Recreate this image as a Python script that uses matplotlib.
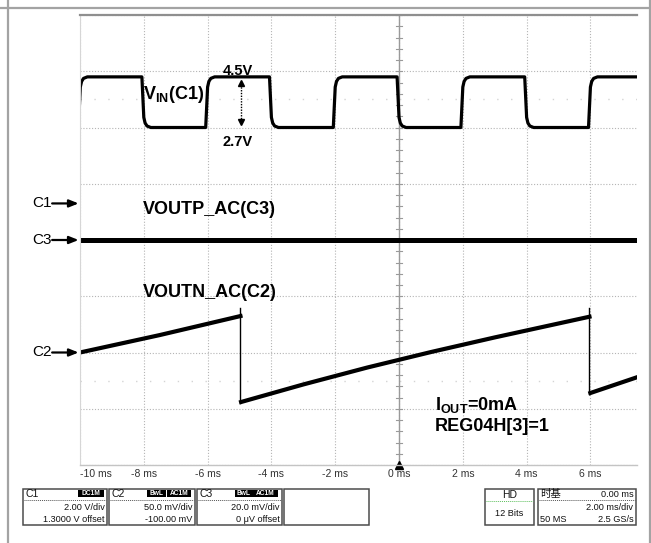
import matplotlib
matplotlib.use('Agg')
import matplotlib.pyplot as plt
from matplotlib.patches import Rectangle

plt.rcParams['font.family'] = ['Liberation Sans', 'DejaVu Sans']
plt.rcParams['mathtext.fontset'] = 'custom'
plt.rcParams['mathtext.rm'] = 'Liberation Sans'
plt.rcParams['mathtext.bf'] = 'Liberation Sans:bold'
plt.rcParams['mathtext.it'] = 'Liberation Sans:italic'

# ---------------- data ----------------
time_ticks_ms = [-10, -8, -6, -4, -2, 0, 2, 4, 6]
time_tick_labels = ['-10 ms', '-8 ms', '-6 ms', '-4 ms', '-2 ms', '0 ms', '2 ms', '4 ms', '6 ms']
x_range_ms = (-10.0, 7.46)
div_range = (-4, 4)

# channel settings (scale per division, offset)
c1_scale_v, c1_offset_v = 2.0, 1.3
c2_scale_mv, c2_offset_mv = 50.0, -100.0
c3_scale_mv, c3_offset_mv = 20.0, 0.0

# VIN (C1): square wave levels and edge times
vin_high_v, vin_low_v = 4.5, 2.7
vin_rise_ms = [-10.05, -6.06, -2.06, 1.94, 5.94]
vin_fall_ms = [-8.06, -4.06, -0.06, 3.94]
edge_dt_ms = [0.0, 0.06, 0.10, 0.16, 0.28]
edge_frac = [0.0, 0.80, 0.91, 0.97, 1.0]

# VOUTN_AC (C2): sawtooth ramps (mV)
c2_seg1_t = [-10.0, -7.5, -4.97]
c2_seg1_mv = [0.0, 15.5, 32.4]
c2_seg2_t = [-4.95, -3.0, -1.0, 1.0, 3.0, 5.97]
c2_seg2_mv = [-44.0, -28.4, -13.4, 0.4, 13.4, 31.8]
c2_seg3_t = [6.0, 7.46]
c2_seg3_mv = [-36.0, -22.0]
c2_drop_t = [-4.97, 5.97]
c2_drop_top_mv = [40.0, 40.0]
c2_drop_bottom_mv = [-45.0, -37.0]

# VOUTP_AC (C3): flat noise trace (mV)
c3_t = [-10.0, 7.46]
c3_mv = [0.0, 0.0]


def to_div(v, scale, offset):
    return [(x + offset) / scale for x in v]


# ---------------- figure ----------------
W, H = 651, 543
fig = plt.figure(figsize=(W / 100, H / 100), dpi=100)
fig.patch.set_facecolor('white')

ax = fig.add_axes([80 / W, (H - 465) / H, 557 / W, 450 / H], zorder=1)
ax.patch.set_alpha(0)
ax.set_xlim(*x_range_ms)
ax.set_ylim(*div_range)
ax.set_xticks(time_ticks_ms)
ax.set_yticks(range(div_range[0], div_range[1] + 1))
ax.tick_params(length=0, labelbottom=False, labelleft=False)
ax.grid(True, color='#b4b4b4', linestyle=(0, (1, 1.6)), linewidth=0.8)
ax.spines['right'].set_visible(False)
ax.spines['top'].set_color('#8f8f8f')
ax.spines['top'].set_linewidth(1.6)
ax.spines['left'].set_color('#d6d6d6')
ax.spines['left'].set_linewidth(0.8)
ax.spines['bottom'].set_color('#c4c4c4')
ax.spines['bottom'].set_linewidth(1.0)

# faint half-division dot rows
for yy in (2.5, -2.5):
    ax.axhline(yy, color='#d4d4d4', linestyle=(0, (1, 9)), linewidth=1.0)

# center axis with minor ticks
ax.axvline(0, color='#9a9a9a', linewidth=1.0)
k = div_range[0] * 5
while k <= div_range[1] * 5:
    yy = k / 5
    ax.plot([-0.09, 0.09], [yy, yy], color='#9a9a9a', linewidth=0.8)
    k += 1
ax.plot([0], [div_range[0]], marker='^', markersize=6, color='black', clip_on=False)

# time tick labels
for t, lab in zip(time_ticks_ms, time_tick_labels):
    ax.text(t, div_range[0] - 0.07, lab, ha='left' if t == time_ticks_ms[0] else 'center',
            va='top', fontsize=7.5, color='#333333', family='Liberation Sans')

# VIN trace
edges = sorted([(t, vin_high_v) for t in vin_rise_ms] + [(t, vin_low_v) for t in vin_fall_ms])
t_pts = [x_range_ms[0] - 1]
v_pts = [vin_low_v]
level = vin_low_v
for te, new in edges:
    for dt, f in zip(edge_dt_ms, edge_frac):
        t_pts.append(te + dt)
        v_pts.append(level + f * (new - level))
    level = new
t_pts.append(x_range_ms[1] + 1)
v_pts.append(level)
ax.plot(t_pts, to_div(v_pts, c1_scale_v, c1_offset_v), color='black', linewidth=2.3,
        solid_joinstyle='round')

# C3 trace
ax.plot(c3_t, to_div(c3_mv, c3_scale_mv, c3_offset_mv), color='black', linewidth=3.6)

# C2 trace
for ts, vs in ((c2_seg1_t, c2_seg1_mv), (c2_seg2_t, c2_seg2_mv), (c2_seg3_t, c2_seg3_mv)):
    ax.plot(ts, to_div(vs, c2_scale_mv, c2_offset_mv), color='black', linewidth=3.0,
            solid_joinstyle='round')
for t, top, bot in zip(c2_drop_t, c2_drop_top_mv, c2_drop_bottom_mv):
    ax.plot([t, t], to_div([top, bot], c2_scale_mv, c2_offset_mv), color='black', linewidth=1.0)

# 4.5V / 2.7V double arrow
arrow_t = -4.95
ya, yb = to_div([vin_high_v, vin_low_v], c1_scale_v, c1_offset_v)
ax.plot([arrow_t, arrow_t], [ya - 0.12, yb + 0.12], color='black', linestyle=(0, (1, 1)), linewidth=1.0)
ax.plot([arrow_t], [ya - 0.1], marker='^', markersize=4.5, color='black')
ax.plot([arrow_t], [yb + 0.1], marker='v', markersize=4.5, color='black')

# ground markers
markers = [('C1', c1_offset_v / c1_scale_v), ('C3', c3_offset_mv / c3_scale_mv),
           ('C2', c2_offset_mv / c2_scale_mv)]
for name, yv in markers:
    ax.annotate('', xy=(0.0, yv), xycoords=('axes fraction', 'data'),
                xytext=(-0.05, yv), textcoords=('axes fraction', 'data'),
                arrowprops=dict(arrowstyle='-|>,head_length=0.55,head_width=0.22',
                                color='black', lw=1.6, shrinkA=0, shrinkB=1),
                annotation_clip=False)
    ax.text(-0.086, yv, name, transform=ax.get_yaxis_transform(), ha='left',
            va='center', fontsize=11, color='black')

# ---------------- overlay (pixel coords) ----------------
bg = fig.add_axes([0, 0, 1, 1], zorder=2)
bg.patch.set_alpha(0)
bg.set_xlim(0, W)
bg.set_ylim(H, 0)
bg.axis('off')

frame_c = '#a3a3a3'
bg.plot([0, W], [7.5, 7.5], color=frame_c, linewidth=1.6)
bg.plot([7.5, 7.5], [0, H], color=frame_c, linewidth=1.6)
bg.plot([649.5, 649.5], [0, H], color=frame_c, linewidth=1.6)

# annotations
bg.text(238, 75, '4.5V', ha='center', va='baseline', fontsize=10.5, fontweight='bold')
bg.text(238, 146, '2.7V', ha='center', va='baseline', fontsize=10.5, fontweight='bold')
bg.text(143, 99, r'$\mathbf{V_{IN}(C1)}$', ha='left', va='baseline', fontsize=13)
bg.text(143, 214, 'VOUTP_AC(C3)', ha='left', va='baseline', fontsize=13, fontweight='bold')
bg.text(143, 297, 'VOUTN_AC(C2)', ha='left', va='baseline', fontsize=13, fontweight='bold')
bg.text(435, 410, r'$\mathbf{I_{OUT}}$=0mA', ha='left', va='baseline', fontsize=13,
        fontweight='bold')
bg.text(435, 431, 'REG04H[3]=1', ha='left', va='baseline', fontsize=13, fontweight='bold')

# info boxes
box_c = '#4c4c4c'
fs = 6.6
def box(x0, x1, y0=489, y1=525):
    bg.add_patch(Rectangle((x0, y0), x1 - x0, y1 - y0, fill=False, edgecolor=box_c, linewidth=1.1))

def badge(x0, x1, label, y0=490, y1=497):
    bg.add_patch(Rectangle((x0, y0), x1 - x0, y1 - y0, facecolor='black', edgecolor='none'))
    bg.text((x0 + x1) / 2, (y0 + y1) / 2 + 0.3, label, ha='center', va='center',
            fontsize=4.8, color='white', fontweight='bold')

def sep(x0, x1, y=499.5, c='#555555'):
    bg.plot([x0 + 1, x1 - 1], [y, y], color=c, linestyle=(0, (1, 1)), linewidth=0.7)

chan_boxes = [
    (23, 107, 'C1', [(78, 104, 'DC1M')], '2.00 V/div', '1.3000 V offset'),
    (109, 195, 'C2', [(146.5, 166, 'BwL'), (166.5, 191, 'AC1M')], '50.0 mV/div', '-100.00 mV'),
    (197, 282, 'C3', [(235, 251.5, 'BwL'), (252, 278, 'AC1M')], '20.0 mV/div', '0 \u03bcV offset'),
]
for x0, x1, name, badges, l1, l2 in chan_boxes:
    box(x0, x1)
    bg.text(x0 + 2, 494, name, ha='left', va='center', fontsize=7.5, color='#111111')
    for b0, b1, lab in badges:
        badge(b0, b1, lab)
    sep(x0, x1)
    bg.text(x1 - 2.5, 507, l1, ha='right', va='center', fontsize=fs, color='#111111')
    bg.text(x1 - 2.5, 519, l2, ha='right', va='center', fontsize=fs, color='#111111')

box(283.5, 369)

box(485, 534)
bg.text(509.5, 494.5, 'HD', ha='center', va='center', fontsize=7.5, color='#111111')
sep(485, 534, y=500.5, c='#5cbf5c')
bg.text(509.5, 513, '12 Bits', ha='center', va='center', fontsize=fs, color='#111111')

box(537.5, 636)
bg.text(540, 494, '时基', ha='left', va='center', fontsize=7.5, color='#111111',
        family=['Noto Sans CJK SC', 'DejaVu Sans'])
bg.text(633.5, 494.5, '0.00 ms', ha='right', va='center', fontsize=fs, color='#111111')
sep(537.5, 636)
bg.text(633.5, 507.5, '2.00 ms/div', ha='right', va='center', fontsize=fs, color='#111111')
bg.text(540, 519, '50 MS', ha='left', va='center', fontsize=fs, color='#111111')
bg.text(633.5, 519, '2.5 GS/s', ha='right', va='center', fontsize=fs, color='#111111')

fig.savefig('out.png', dpi=100, facecolor='white')
